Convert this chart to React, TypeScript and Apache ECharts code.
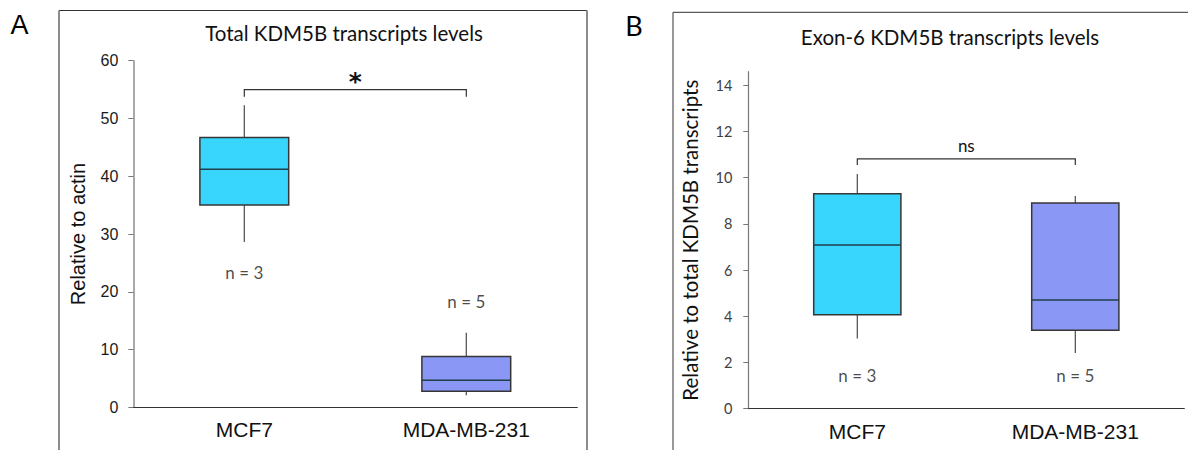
import React, { useEffect, useRef } from "react";
import * as echarts from "echarts";

// ---------- data ----------
const categories = ["MCF7", "MDA-MB-231"];
// [lower whisker, Q1, median, Q3, upper whisker]
const totalStats = [
  [28.6, 35.0, 41.2, 46.7, 52.3],
  [2.1, 2.8, 4.7, 8.8, 12.9],
];
const exon6Stats = [
  [3.04, 4.07, 7.08, 9.3, 10.15],
  [2.41, 3.39, 4.7, 8.9, 9.2],
];
const sampleLabels = ["n = 3", "n = 5"];
const totalNLabelY = [23.4, 18.4];
const exon6NLabelY = [1.43, 1.43];
const totalTicks = [0, 10, 20, 30, 40, 50, 60];
const exon6Ticks = [0, 2, 4, 6, 8, 10, 12, 14];
const totalBracket = [55, 53.75]; // [bar level, end drop]
const exon6Bracket = [10.81, 10.54];
const totalSignif = "*";
const exon6Signif = "ns";
const panelTitles = ["Total KDM5B transcripts levels", "Exon-6 KDM5B transcripts levels"];
const yNames = ["Relative to actin", "Relative to total KDM5B transcripts"];
const panelLetters = ["A", "B"];
const boxColors = ["#38D6FD", "#8A97F5"];

const ARIAL = "'Liberation Sans', Arial, sans-serif";
const CALIBRI = "Lato, 'Open Sans', sans-serif";

const boxRender = (params: any, api: any) => {
  const idx = api.value(0);
  const lo = api.coord([idx, api.value(1)]);
  const q1 = api.coord([idx, api.value(2)]);
  const md = api.coord([idx, api.value(3)]);
  const q3 = api.coord([idx, api.value(4)]);
  const hi = api.coord([idx, api.value(5)]);
  const bw = api.size([1, 0])[0] * 0.4;
  const cx = md[0];
  return {
    type: "group",
    children: [
      { type: "line", shape: { x1: cx, y1: hi[1], x2: cx, y2: q3[1] }, style: { stroke: "#4a4a4a", lineWidth: 1.2 } },
      { type: "line", shape: { x1: cx, y1: q1[1], x2: cx, y2: lo[1] }, style: { stroke: "#4a4a4a", lineWidth: 1.2 } },
      {
        type: "rect",
        shape: { x: cx - bw / 2, y: q3[1], width: bw, height: q1[1] - q3[1] },
        style: { fill: boxColors[idx], stroke: "#363636", lineWidth: 1.5 },
      },
      { type: "line", shape: { x1: cx - bw / 2, y1: md[1], x2: cx + bw / 2, y2: md[1] }, style: { stroke: "#1f3f4a", lineWidth: 1.5 } },
    ],
  };
};

const bracketRender = (label: string, font: string, fontSize: number, weight: string, lift: number) => (params: any, api: any) => {
  const a0 = api.coord([api.value(0), api.value(3)]);
  const a1 = api.coord([api.value(0), api.value(2)]);
  const b1 = api.coord([api.value(1), api.value(2)]);
  const b0 = api.coord([api.value(1), api.value(3)]);
  return {
    type: "group",
    children: [
      { type: "polyline", shape: { points: [a0, a1, b1, b0] }, style: { stroke: "#333", lineWidth: 1.2, fill: null } },
      {
        type: "text",
        x: (a1[0] + b1[0]) / 2,
        y: a1[1] - lift,
        style: { text: label, fontFamily: font, fontSize, fontWeight: weight, fill: "#111", align: "center", verticalAlign: "middle" },
      },
    ],
  };
};

const App: React.FC = () => {
  const ref = useRef<HTMLDivElement>(null);
  useEffect(() => {
    if (!ref.current) return;
    const chart = echarts.init(ref.current, undefined, { renderer: "svg" });
    const grids = [
      { left: 133.3, top: 60.7, width: 444, height: 346.6 },
      { left: 748.3, top: 71.7, width: 436, height: 337 },
    ];
    const xAxisBase = (gi: number) => ({
      type: "category",
      gridIndex: gi,
      data: categories,
      axisLine: { lineStyle: { color: "#333", width: 1.2 } },
      axisTick: { length: 7, lineStyle: { color: "#333" } },
      axisLabel: { fontFamily: ARIAL, fontSize: 21, color: "#111", margin: 12 },
      splitLine: { show: false },
    });
    const option: any = {
      animation: false,
      backgroundColor: "#ffffff",
      grid: grids,
      xAxis: [xAxisBase(0), xAxisBase(1)],
      yAxis: [
        {
          type: "value",
          gridIndex: 0,
          min: 0,
          max: 60,
          interval: 10,
          name: yNames[0],
          nameLocation: "middle",
          nameRotate: 90,
          nameGap: 45,
          nameTextStyle: { fontFamily: ARIAL, fontSize: 20, color: "#111" },
          axisLine: { show: true, lineStyle: { color: "#8c8c8c", width: 1.5 } },
          axisTick: { show: true, length: 5, lineStyle: { color: "#777" }, customValues: totalTicks },
          axisLabel: { fontFamily: ARIAL, fontSize: 16, color: "#1a1a1a", margin: 15, customValues: totalTicks },
          splitLine: { show: false },
        },
        {
          type: "value",
          gridIndex: 1,
          min: 0,
          max: 14.58,
          interval: 2,
          name: yNames[1],
          nameLocation: "middle",
          nameRotate: 90,
          nameGap: 48,
          nameTextStyle: { fontFamily: CALIBRI, fontSize: 20.5, color: "#111" },
          axisLine: { show: true, lineStyle: { color: "#777", width: 1.2 } },
          axisTick: { show: true, length: 5, lineStyle: { color: "#777" }, customValues: exon6Ticks },
          axisLabel: { fontFamily: CALIBRI, fontSize: 14.5, color: "#404040", margin: 16, customValues: exon6Ticks },
          splitLine: { show: false },
        },
      ],
      graphic: [
        { type: "line", shape: { x1: 59, y1: 10.5, x2: 587, y2: 10.5 }, style: { stroke: "#333", lineWidth: 1 } },
        { type: "line", shape: { x1: 59, y1: 10.5, x2: 59, y2: 460 }, style: { stroke: "#8c8c8c", lineWidth: 2 } },
        { type: "line", shape: { x1: 587, y1: 10.5, x2: 587, y2: 460 }, style: { stroke: "#8c8c8c", lineWidth: 2 } },
        { type: "line", shape: { x1: 673, y1: 12.3, x2: 1200, y2: 12.3 }, style: { stroke: "#333", lineWidth: 1 } },
        { type: "line", shape: { x1: 673, y1: 12.3, x2: 673, y2: 460 }, style: { stroke: "#333", lineWidth: 1 } },
        {
          type: "text", x: 19.5, y: 25,
          style: { text: panelLetters[0], fontFamily: ARIAL, fontSize: 27, fill: "#000", align: "center", verticalAlign: "middle" },
        },
        {
          type: "text", x: 634, y: 25,
          style: { text: panelLetters[1], fontFamily: CALIBRI, fontSize: 27, fill: "#000", align: "center", verticalAlign: "middle" },
        },
        {
          type: "text", x: 344, y: 33,
          style: { text: panelTitles[0], fontFamily: CALIBRI, fontSize: 20.5, fill: "#111", align: "center", verticalAlign: "middle" },
        },
        {
          type: "text", x: 950, y: 37,
          style: { text: panelTitles[1], fontFamily: CALIBRI, fontSize: 20.5, fill: "#111", align: "center", verticalAlign: "middle" },
        },
      ],
      series: [
        {
          type: "custom",
          name: "total",
          xAxisIndex: 0,
          yAxisIndex: 0,
          renderItem: boxRender,
          encode: { x: 0, y: [1, 2, 3, 4, 5] },
          data: totalStats.map((s, i) => [i, ...s]),
          z: 3,
        },
        {
          type: "custom",
          name: "exon6",
          xAxisIndex: 1,
          yAxisIndex: 1,
          renderItem: boxRender,
          encode: { x: 0, y: [1, 2, 3, 4, 5] },
          data: exon6Stats.map((s, i) => [i, ...s]),
          z: 3,
        },
        {
          type: "custom",
          xAxisIndex: 0,
          yAxisIndex: 0,
          renderItem: bracketRender(totalSignif, "'DejaVu Sans', sans-serif", 25, "bold", 8),
          encode: { x: [0, 1], y: [2, 3] },
          data: [[0, 1, ...totalBracket]],
        },
        {
          type: "custom",
          xAxisIndex: 1,
          yAxisIndex: 1,
          renderItem: bracketRender(exon6Signif, CALIBRI, 17, "normal", 13.5),
          encode: { x: [0, 1], y: [2, 3] },
          data: [[0, 1, ...exon6Bracket]],
        },
        {
          type: "scatter",
          xAxisIndex: 0,
          yAxisIndex: 0,
          symbolSize: 0,
          data: totalNLabelY.map((v, i) => [i, v]),
          label: {
            show: true, position: "inside", formatter: (p: any) => sampleLabels[p.dataIndex],
            fontFamily: CALIBRI, fontSize: 17, color: "#1a1a1a",
          },
        },
        {
          type: "scatter",
          xAxisIndex: 1,
          yAxisIndex: 1,
          symbolSize: 0,
          data: exon6NLabelY.map((v, i) => [i, v]),
          label: {
            show: true, position: "inside", formatter: (p: any) => sampleLabels[p.dataIndex],
            fontFamily: CALIBRI, fontSize: 17, color: "#1a1a1a",
          },
        },
      ],
    };
    chart.setOption(option);
    return () => chart.dispose();
  }, []);
  return <div ref={ref} style={{ position: "absolute", left: 0, top: 0, width: 1188, height: 450, background: "#fff" }} />;
};

export default App;
